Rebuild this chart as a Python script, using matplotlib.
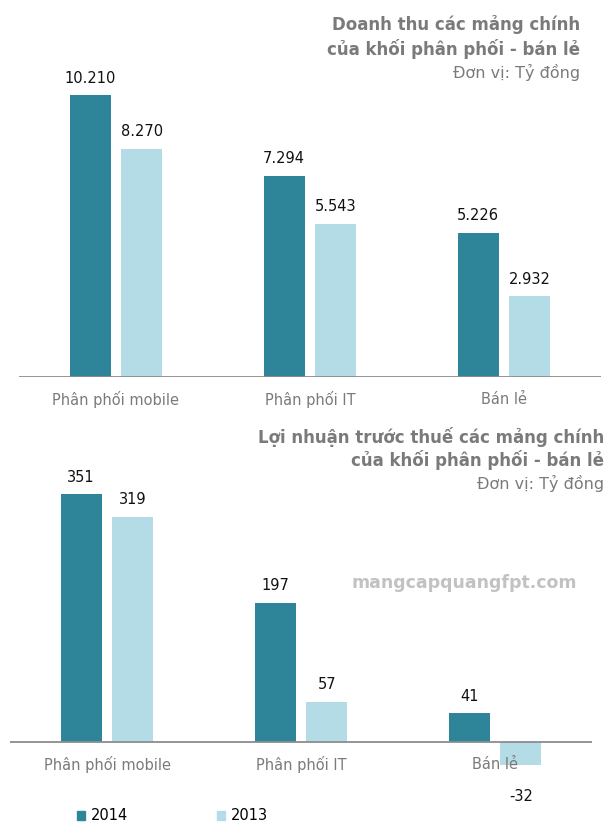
import matplotlib
matplotlib.use("Agg")
import matplotlib.pyplot as plt
from matplotlib.patches import Patch
import numpy as np

categories = ["Phân phối mobile", "Phân phối IT", "Bán lẻ"]
series_names = ["2014", "2013"]
revenue_2014 = [10210, 7294, 5226]
revenue_2013 = [8270, 5543, 2932]
profit_2014 = [351, 197, 41]
profit_2013 = [319, 57, -32]

title1 = ["Doanh thu các mảng chính", "của khối phân phối - bán lẻ"]
title2 = ["Lợi nhuận trước thuế các mảng chính", "của khối phân phối - bán lẻ"]
unit = "Đơn vị: Tỷ đồng"
watermark = "mangcapquangfpt.com"

DARK = "#2e8599"
LIGHT = "#b3dce6"
GRAY = "#7a7a7a"
LINE = "#8c8c8c"

W, H = 613, 836
fig = plt.figure(figsize=(W / 100, H / 100), dpi=100)
plt.rcParams['font.family'] = ['DejaVu Sans']


def fx(px):
    return px / W


def fy(py):
    return 1 - py / H


def fmt(v):
    s = f"{abs(v):,}".replace(",", ".")
    return ("-" if v < 0 else "") + s


def make_axes(left, right, top, bottom):
    return fig.add_axes([fx(left), fy(bottom), fx(right - left), (bottom - top) / H])


def draw_panel(ax, v14, v13, scale, base_px, top_px, bottom_px):
    x = np.arange(len(categories))
    off, w = 0.133, 0.211
    ax.set_xlim(-0.5, 2.5)
    ax.set_ylim(-(bottom_px - base_px) / scale, (base_px - top_px) / scale)
    b1 = ax.bar(x - off, v14, w, color=DARK, zorder=2)
    b2 = ax.bar(x + off, v13, w, color=LIGHT, zorder=2)
    ax.axhline(0, color=LINE, lw=1.3, zorder=3)
    for bars, vals in ((b1, v14), (b2, v13)):
        for r, v in zip(bars, vals):
            cx = r.get_x() + r.get_width() / 2
            if v >= 0:
                ax.annotate(fmt(v), (cx, v), xytext=(0, 12.2), textcoords="offset points",
                            ha="center", va="center", fontsize=10.5, color="#111111")
            else:
                ax.annotate(fmt(v), (cx, v), xytext=(0, -23), textcoords="offset points",
                            ha="center", va="center", fontsize=10.5, color="#111111")
    for i, c in enumerate(categories):
        ax.annotate(c, (i, 0), xytext=(0, -16.5), textcoords="offset points",
                    ha="center", va="center", fontsize=10.5, color=GRAY, zorder=5)
    ax.axis("off")


# Top panel
ax1 = make_axes(19, 601, 60, 377)
draw_panel(ax1, revenue_2014, revenue_2013, 282 / 10210, 377, 60, 377)

# Bottom panel
ax2 = make_axes(10, 592, 470, 800)
draw_panel(ax2, profit_2014, profit_2013, 248 / 351, 742, 470, 800)

# Titles
fig.text(fx(580), fy(25), title1[0], ha="right", va="center", fontsize=12,
         fontweight="bold", color=GRAY)
fig.text(fx(580), fy(49), title1[1], ha="right", va="center", fontsize=12,
         fontweight="bold", color=GRAY)
fig.text(fx(580), fy(72), unit, ha="right", va="center", fontsize=11.5, color=GRAY)

fig.text(fx(604), fy(437), title2[0], ha="right", va="center", fontsize=12,
         fontweight="bold", color=GRAY)
fig.text(fx(604), fy(460), title2[1], ha="right", va="center", fontsize=12,
         fontweight="bold", color=GRAY)
fig.text(fx(604), fy(483), unit, ha="right", va="center", fontsize=11.5, color=GRAY)

fig.text(fx(464), fy(583), watermark, ha="center", va="center", fontsize=12.5,
         fontweight="bold", color="#c2c2c2")

# Legend
handles = [Patch(color=DARK, label=series_names[0]), Patch(color=LIGHT, label=series_names[1])]
fig.legend(handles=handles, loc="center left", bbox_to_anchor=(fx(77), fy(816)),
           ncol=2, frameon=False, fontsize=10.5, handlelength=0.55, handleheight=0.6,
           handletextpad=0.4, columnspacing=6.1, borderpad=0, borderaxespad=0)

fig.savefig("out.png", dpi=100, facecolor="white")
